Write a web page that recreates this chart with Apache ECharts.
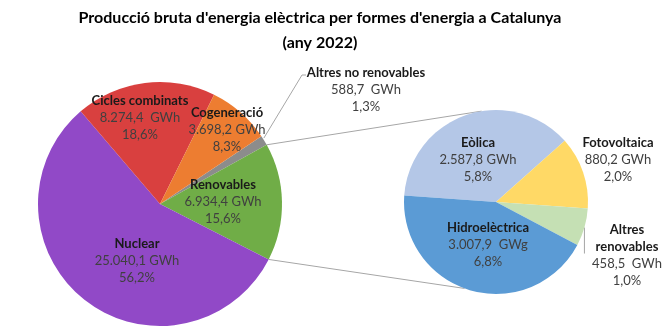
<!DOCTYPE html>
<html>
<head>
<meta charset="utf-8">
<script src="https://cdn.jsdelivr.net/npm/echarts@6/dist/echarts.min.js"></script>
<style>
html,body{margin:0;padding:0;background:#fff;}
#c{width:670px;height:331px;}
</style>
</head>
<body>
<div id="c"></div>
<script>
// ---- data ----
var mainNames = ['Altres no renovables', 'Renovables', 'Nuclear', 'Cicles combinats', 'Cogeneració'];
var mainValues = [588.7, 6934.4, 25040.1, 8274.4, 3698.2];
var mainUnits = ['  GWh', ' GWh', ' GWh', '  GWh', ' GWh'];
var subNames = ['Eòlica', 'Fotovoltaica', 'Altres\nrenovables', 'Hidroelèctrica'];
var subValues = [2587.8, 880.2, 458.5, 3007.9];
var subUnits = [' GWh', ' GWh', '  GWh', '  GWg'];
var titleLines = ["Producció bruta d'energia elèctrica per formes d'energia a Catalunya", '(any 2022)'];

// ---- layout / style ----
var FONT = 'Lato, "Open Sans", sans-serif';
var mainColors = ['#8C8C8C', '#70AD47', '#9149C7', '#D9403F', '#ED7D31'];
var subColors = ['#B4C7E7', '#FFD966', '#C5E0B4', '#5B9BD5'];
var C1 = [160, 204], R1 = 122;
var C2 = [496, 202], R2 = 92;
var mainLabelPos = [[366, 90], [223, 202], [137, 261], [140, 118], [227, 130]];
var subLabelPos = [[478, 160], [618, 160], [627, 255], [488, 245]];

var total = mainValues.reduce(function (a, b) { return a + b; }, 0);
var renIdx = 1;
var renDeg = mainValues[renIdx] / total * 360;
var grayDeg = mainValues[0] / total * 360;
var startMain = 1 + renDeg / 2 + grayDeg;

function fmtNum(v) {
  var parts = v.toFixed(1).split('.');
  var ip = parts[0].replace(/\B(?=(\d{3})+(?!\d))/g, '.');
  return ip + ',' + parts[1];
}
function fmtPct(v) {
  return (v / total * 100).toFixed(1).replace('.', ',') + '%';
}
function mkData(names, values, units, colors) {
  return names.map(function (n, i) {
    return { name: n, value: values[i], unit: units[i], itemStyle: { color: colors[i] } };
  });
}
var rich = {
  b: { fontFamily: FONT, fontWeight: 'bold', fontSize: 13, color: '#1a1a1a', lineHeight: 17 },
  v: { fontFamily: FONT, fontSize: 13, color: '#404040', lineHeight: 17 }
};
function labelFmt(p) {
  var nameLines = p.name.split('\n').map(function (s) { return '{b|' + s + '}'; }).join('\n');
  return nameLines + '\n{v|' + fmtNum(p.value) + p.data.unit + '}\n{v|' + fmtPct(p.value) + '}';
}

function deg2pt(c, r, a) {
  var rad = a * Math.PI / 180;
  return [c[0] + r * Math.cos(rad), c[1] - r * Math.sin(rad)];
}
// connector points
var aTop = startMain - grayDeg;
var aBot = aTop - renDeg;
var p1 = deg2pt(C1, R1, aTop), p2 = deg2pt(C2, R2, 99);
var p3 = deg2pt(C1, R1, aBot), p4 = deg2pt(C2, R2, -110);
var grayMid = startMain - grayDeg / 2;
var g0 = deg2pt(C1, R1 + 1, grayMid + 1);

// sub pie start
var subTotal = subValues.reduce(function (a, b) { return a + b; }, 0);
var startSub = 176;
var altMid = startSub - (subValues[0] + subValues[1] + subValues[2] / 2) / subTotal * 360;
var a0 = deg2pt(C2, R2 + 1, altMid);

var lineStyle = { stroke: '#A6A6A6', lineWidth: 1 };
var chart = echarts.init(document.getElementById('c'));
chart.setOption({
  animation: false,
  title: {
    text: titleLines.join('\n'),
    left: 315,
    textAlign: 'center',
    top: 0,
    textStyle: { fontFamily: FONT, fontWeight: 'bold', fontSize: 16, color: '#000', lineHeight: 25 }
  },
  graphic: [
    { type: 'polyline', shape: { points: [p1, p2] }, style: lineStyle, z: 1 },
    { type: 'polyline', shape: { points: [p3, p4] }, style: lineStyle, z: 1 },
    { type: 'polyline', shape: { points: [g0, [302, 75], [306, 75]] }, style: lineStyle, z: 1 },
    { type: 'polyline', shape: { points: [[a0[0] - 1, a0[1]], [a0[0] - 1, a0[1] + 26]] }, style: lineStyle, z: 1 }
  ],
  series: [
    {
      type: 'pie',
      center: C1,
      radius: R1,
      startAngle: startMain,
      clockwise: true,
      avoidLabelOverlap: false,
      data: mkData(mainNames, mainValues, mainUnits, mainColors),
      label: { show: true, position: 'inside', formatter: labelFmt, rich: rich, align: 'center' },
      labelLine: { show: false },
      labelLayout: function (p) {
        var q = mainLabelPos[p.dataIndex];
        return { x: q[0], y: q[1], align: 'center', verticalAlign: 'middle' };
      },
      emphasis: { disabled: true }
    },
    {
      type: 'pie',
      center: C2,
      radius: R2,
      startAngle: startSub,
      clockwise: true,
      avoidLabelOverlap: false,
      data: mkData(subNames, subValues, subUnits, subColors),
      label: { show: true, position: 'inside', formatter: labelFmt, rich: rich, align: 'center' },
      labelLine: { show: false },
      labelLayout: function (p) {
        var q = subLabelPos[p.dataIndex];
        return { x: q[0], y: q[1], align: 'center', verticalAlign: 'middle' };
      },
      emphasis: { disabled: true }
    }
  ]
});
</script>
</body>
</html>
